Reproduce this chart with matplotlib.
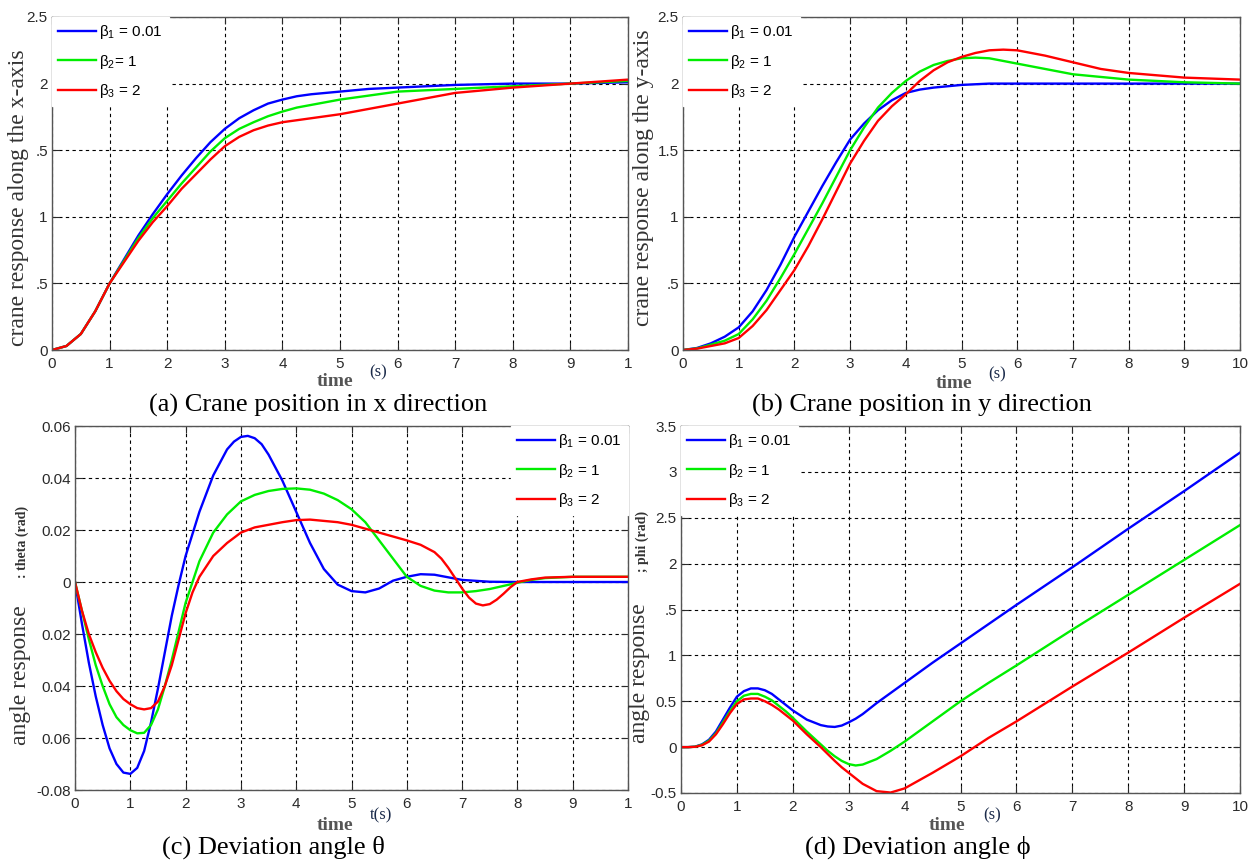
import matplotlib
matplotlib.use("Agg")
import matplotlib.pyplot as plt

# ---------------- data ----------------
labels = ["β$_1$ = 0.01", "β$_2$= 1", "β$_3$ = 2"]
labels_b = ["β$_1$ = 0.01", "β$_2$ = 1", "β$_3$ = 2"]
colors = ["#0000ff", "#00ee00", "#ff0000"]

# (a) crane position x
ta = [0, 0.25, 0.5, 0.75, 1.0, 1.25, 1.5, 1.75, 2.0, 2.25, 2.5, 2.75, 3.0, 3.25, 3.5, 3.75,
      4.0, 4.25, 4.5, 4.75, 5.0, 5.5, 6.0, 6.5, 7.0, 7.5, 8.0, 8.5, 9.0, 9.5, 10.0]
xa_b1 = [0, 0.03, 0.12, 0.29, 0.5, 0.68, 0.86, 1.02, 1.17, 1.31, 1.44, 1.56, 1.66, 1.74, 1.80,
         1.85, 1.88, 1.905, 1.92, 1.93, 1.94, 1.96, 1.97, 1.98, 1.99, 1.995, 2.0, 2.0, 2.0, 2.005, 2.01]
xa_b2 = [0, 0.03, 0.12, 0.29, 0.5, 0.67, 0.84, 0.99, 1.12, 1.25, 1.37, 1.49, 1.59, 1.66, 1.71,
         1.755, 1.79, 1.82, 1.84, 1.86, 1.88, 1.91, 1.94, 1.95, 1.96, 1.97, 1.98, 1.99, 2.0, 2.01, 2.02]
xa_b3 = [0, 0.03, 0.12, 0.29, 0.5, 0.66, 0.82, 0.96, 1.08, 1.21, 1.32, 1.43, 1.53, 1.60, 1.65,
         1.685, 1.71, 1.725, 1.74, 1.755, 1.77, 1.81, 1.85, 1.89, 1.93, 1.95, 1.97, 1.985, 2.0, 2.015, 2.03]

# (b) crane position y
tb = [0, 0.25, 0.5, 0.75, 1.0, 1.25, 1.5, 1.75, 2.0, 2.25, 2.5, 2.75, 3.0, 3.25, 3.5, 3.75,
      4.0, 4.25, 4.5, 4.75, 5.0, 5.25, 5.5, 5.75, 6.0, 6.5, 7.0, 7.5, 8.0, 9.0, 10.0]
yb_b1 = [0, 0.015, 0.05, 0.10, 0.17, 0.29, 0.45, 0.64, 0.85, 1.04, 1.23, 1.41, 1.58, 1.70, 1.80,
         1.875, 1.93, 1.955, 1.97, 1.98, 1.99, 1.995, 2.0, 2.0, 2.0, 2.0, 2.0, 2.0, 2.0, 2.0, 2.0]
yb_b2 = [0, 0.012, 0.04, 0.07, 0.12, 0.23, 0.37, 0.54, 0.72, 0.91, 1.10, 1.30, 1.50, 1.67, 1.82,
         1.93, 2.02, 2.09, 2.14, 2.17, 2.19, 2.195, 2.19, 2.17, 2.15, 2.11, 2.07, 2.05, 2.03, 2.01, 2.0]
yb_b3 = [0, 0.01, 0.03, 0.05, 0.09, 0.18, 0.30, 0.45, 0.60, 0.78, 0.98, 1.19, 1.40, 1.57, 1.72,
         1.83, 1.92, 2.02, 2.10, 2.16, 2.20, 2.23, 2.25, 2.255, 2.25, 2.21, 2.16, 2.11, 2.08, 2.045, 2.03]

# (c) deviation angle theta
tc1 = [0, 0.125, 0.25, 0.375, 0.5, 0.625, 0.75, 0.875, 1.0, 1.125, 1.25, 1.375, 1.5, 1.625,
       1.75, 1.875, 2.0, 2.25, 2.5, 2.75, 2.875, 3.0, 3.125, 3.25, 3.375, 3.5, 3.75, 4.0, 4.25,
       4.5, 4.75, 5.0, 5.25, 5.5, 5.75, 6.0, 6.25, 6.5, 6.75, 7.0, 7.5, 8.0, 10.0]
th_b1 = [0, -0.016, -0.031, -0.044, -0.055, -0.064, -0.070, -0.0733, -0.0738, -0.0715, -0.065,
         -0.054, -0.041, -0.027, -0.013, -0.001, 0.010, 0.027, 0.041, 0.051, 0.054, 0.0558, 0.0562,
         0.0553, 0.053, 0.049, 0.039, 0.027, 0.015, 0.005, -0.001, -0.0035, -0.004, -0.0025,
         0.0005, 0.002, 0.003, 0.0028, 0.0018, 0.0008, 0.0001, 0.0, 0.0]
tc2 = [0, 0.125, 0.25, 0.375, 0.5, 0.625, 0.75, 0.875, 1.0, 1.125, 1.25, 1.375, 1.5, 1.625,
       1.75, 1.875, 2.0, 2.25, 2.5, 2.75, 3.0, 3.25, 3.5, 3.75, 4.0, 4.25, 4.5, 4.75, 5.0, 5.25,
       5.5, 5.75, 6.0, 6.25, 6.5, 6.75, 7.0, 7.25, 7.5, 7.75, 8.0, 8.25, 8.5, 9.0, 10.0]
th_b2 = [0, -0.011, -0.022, -0.032, -0.040, -0.047, -0.052, -0.055, -0.057, -0.0582, -0.058,
         -0.055, -0.049, -0.040, -0.030, -0.019, -0.008, 0.008, 0.019, 0.026, 0.031, 0.0335, 0.035,
         0.0358, 0.036, 0.0355, 0.034, 0.0315, 0.028, 0.023, 0.016, 0.009, 0.002, -0.0015, -0.0033,
         -0.004, -0.004, -0.0035, -0.0027, -0.0015, -0.0003, 0.0008, 0.0015, 0.002, 0.002]
tc3 = [0, 0.125, 0.25, 0.375, 0.5, 0.625, 0.75, 0.875, 1.0, 1.125, 1.25, 1.375, 1.5, 1.625,
       1.75, 1.875, 2.0, 2.125, 2.25, 2.5, 2.75, 3.0, 3.25, 3.5, 3.75, 4.0, 4.25, 4.5, 4.75, 5.0,
       5.25, 5.5, 5.75, 6.0, 6.25, 6.5, 6.625, 6.75, 6.875, 7.0, 7.125, 7.25, 7.375, 7.5, 7.625,
       7.75, 7.875, 8.0, 8.25, 8.5, 9.0, 10.0]
th_b3 = [0, -0.011, -0.020, -0.027, -0.033, -0.038, -0.042, -0.045, -0.047, -0.0485, -0.049,
         -0.0485, -0.046, -0.040, -0.032, -0.022, -0.012, -0.004, 0.002, 0.010, 0.015, 0.019, 0.021,
         0.022, 0.023, 0.0238, 0.024, 0.0235, 0.023, 0.022, 0.0205, 0.019, 0.0175, 0.016, 0.0143,
         0.0115, 0.009, 0.0055, 0.0015, -0.0025, -0.006, -0.0083, -0.009, -0.0085, -0.0068, -0.0045,
         -0.002, 0.0, 0.001, 0.0017, 0.002, 0.002]

# (d) deviation angle phi
td = [0, 0.125, 0.25, 0.375, 0.5, 0.625, 0.75, 0.875, 1.0, 1.125, 1.25, 1.375, 1.5, 1.625, 1.75,
      1.875, 2.0, 2.25, 2.5, 2.625, 2.75, 2.875, 3.0, 3.125, 3.25, 3.5, 3.75, 4.0, 4.5, 5.0, 5.5,
      6.0, 7.0, 8.0, 9.0, 10.0]
ph_b1 = [0, 0, 0.005, 0.03, 0.08, 0.17, 0.30, 0.43, 0.55, 0.61, 0.64, 0.64, 0.62, 0.58, 0.52,
         0.46, 0.40, 0.30, 0.24, 0.225, 0.22, 0.235, 0.27, 0.31, 0.36, 0.48, 0.59, 0.70, 0.92, 1.13,
         1.34, 1.55, 1.96, 2.38, 2.79, 3.21]
ph_b2 = [0, 0, 0.004, 0.025, 0.07, 0.15, 0.27, 0.39, 0.50, 0.56, 0.58, 0.58, 0.55, 0.51, 0.45,
         0.39, 0.32, 0.17, 0.03, -0.04, -0.10, -0.15, -0.185, -0.20, -0.19, -0.13, -0.04, 0.06, 0.28,
         0.50, 0.70, 0.89, 1.28, 1.66, 2.04, 2.42]
ph_b3 = [0, 0, 0.003, 0.02, 0.06, 0.14, 0.25, 0.37, 0.47, 0.52, 0.53, 0.53, 0.50, 0.46, 0.41,
         0.35, 0.29, 0.14, 0.0, -0.075, -0.15, -0.22, -0.28, -0.34, -0.40, -0.48, -0.495, -0.45,
         -0.28, -0.10, 0.10, 0.28, 0.66, 1.03, 1.41, 1.78]

xticks = [0, 1, 2, 3, 4, 5, 6, 7, 8, 9, 10]
xtl_trunc = ["0", "1", "2", "3", "4", "5", "6", "7", "8", "9", "1"]
xtl_full = ["0", "1", "2", "3", "4", "5", "6", "7", "8", "9", "10"]
yt_a = [0, 0.5, 1, 1.5, 2, 2.5]
ytl_a = ["0", ".5", "1", ".5", "2", "2.5"]
ytl_b = ["0", ".5", "1", "1.5", "2", "2.5"]
yt_c = [-0.08, -0.06, -0.04, -0.02, 0, 0.02, 0.04, 0.06]
ytl_c = ["-0.08", "0.06", "0.04", "0.02", "0", "0.02", "0.04", "0.06"]
yt_d = [-0.5, 0, 0.5, 1, 1.5, 2, 2.5, 3, 3.5]
ytl_d = ["-0.5", "0", "0.5", "1", ".5", "2", "2.5", "3", "3.5"]

captions = ["(a) Crane position in x direction", "(b) Crane position in y direction",
            "(c) Deviation angle θ", "(d) Deviation angle ϕ"]

# ---------------- drawing ----------------
W, H = 1250, 860
fig = plt.figure(figsize=(12.5, 8.6), dpi=100)
serif = ["Liberation Serif", "DejaVu Serif"]
sans = ["Liberation Sans", "DejaVu Sans"]
plt.rcParams["font.family"] = sans
plt.rcParams["mathtext.fontset"] = "custom"
plt.rcParams["mathtext.rm"] = "Liberation Sans"
plt.rcParams["mathtext.it"] = "Liberation Sans"


def make_ax(l, r, t, b):
    return fig.add_axes([l / W, 1 - b / H, (r - l) / W, (b - t) / H])


def style(ax, xlim, ylim, yt, ytl, xtl):
    ax.set_xlim(*xlim)
    ax.set_ylim(*ylim)
    ax.set_xticks(xticks)
    ax.set_xticklabels(xtl)
    ax.set_yticks(yt)
    ax.set_yticklabels(ytl)
    ax.tick_params(direction="in", length=5, top=True, right=True, labelsize=11,
                   colors="#2a2a2a")
    ax.tick_params(axis="x", pad=5)
    ax.tick_params(axis="y", pad=3)
    ax.grid(True, color="black", linestyle=(0, (3, 3)), linewidth=0.8)
    for s in ax.spines.values():
        s.set_color("#555555")
        s.set_linewidth(1.0)


def legend(ax, loc, anchor, labs):
    lg = ax.legend(labs, loc=loc, bbox_to_anchor=anchor, fontsize=11, frameon=True,
                   handlelength=2.5, handletextpad=0.2, labelspacing=0.75,
                   borderpad=0.4, borderaxespad=0.0, fancybox=False)
    lg.get_frame().set_edgecolor("white")
    lg.get_frame().set_facecolor("white")
    lg.get_frame().set_alpha(1.0)


def ftext(x, y, s, **kw):
    fig.text(x / W, 1 - y / H, s, ha="center", va="center", **kw)


lw = 1.7
# (a)
ax = make_ax(52, 628, 17, 350)
for y, c in zip([xa_b1, xa_b2, xa_b3], colors):
    ax.plot(ta, y, color=c, lw=lw)
style(ax, (0, 10), (0, 2.5), yt_a, ytl_a, xtl_trunc)
legend(ax, "upper left", (0.0, 1.0), labels)

# (b)
ax = make_ax(683, 1240, 17, 350)
for y, c in zip([yb_b1, yb_b2, yb_b3], colors):
    ax.plot(tb, y, color=c, lw=lw)
style(ax, (0, 10), (0, 2.5), yt_a, ytl_b, xtl_full)
legend(ax, "upper left", (0.0, 1.0), labels_b)

# (c)
ax = make_ax(75, 628, 426, 790)
for tt, y, c in zip([tc1, tc2, tc3], [th_b1, th_b2, th_b3], colors):
    ax.plot(tt, y, color=c, lw=lw)
style(ax, (0, 10), (-0.08, 0.06), yt_c, ytl_c, xtl_trunc)
legend(ax, "upper right", (1.0, 1.0), labels_b)

# (d)
ax = make_ax(681, 1240, 426, 793)
for y, c in zip([ph_b1, ph_b2, ph_b3], colors):
    ax.plot(td, y, color=c, lw=lw)
style(ax, (0, 10), (-0.5, 3.5), yt_d, ytl_d, xtl_full)
legend(ax, "upper left", (0.0, 1.0), labels_b)

# y labels
ftext(19, 198, "crane response along the x-axis", family=serif, fontsize=17,
      rotation=90, color="#333333")
ftext(643, 178, "crane response along the y-axis", family=serif, fontsize=17,
      rotation=90, color="#333333")
ftext(21, 675, "angle response", family=serif, fontsize=17, rotation=90, color="#333333")
ftext(22, 542, ": theta (rad)", family=serif, fontsize=10, fontweight="bold",
      rotation=90, color="#333333")
ftext(640, 673, "angle response", family=serif, fontsize=17, rotation=90, color="#333333")
ftext(642, 541, "; phi (rad)", family=serif, fontsize=10, fontweight="bold",
      rotation=90, color="#333333")

# x labels
for (tx, ty), (sx, sy, st) in zip([(335, 382), (954, 383), (335, 826), (947, 825)],
                                  [(378, 372, "(s)"), (997, 374, "(s)"),
                                   (381, 815, "t(s)"), (992, 815, "(s)")]):
    ftext(tx, ty, "time", family=serif, fontsize=14, fontweight="bold", color="#555555")
    ftext(sx, sy, st, family=serif, fontsize=12, color="#1a2a4a")

# captions
for (cx, cy), cap in zip([(318, 405), (922, 405), (273, 847), (918, 847)], captions):
    ftext(cx, cy, cap, family=serif, fontsize=19, color="black")

fig.savefig("out.png", dpi=100)
